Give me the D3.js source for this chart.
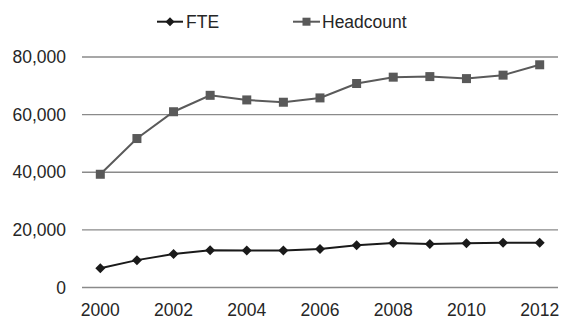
<!DOCTYPE html>
<html><head><meta charset="utf-8">
<script src="https://cdn.jsdelivr.net/npm/d3@7"></script>
<style>body{margin:0;background:#fff}svg{display:block}text{font-family:"Liberation Sans",Arial,sans-serif}</style>
</head><body><svg id="c" width="562" height="320"></svg>
<script>
const years = [2000,2001,2002,2003,2004,2005,2006,2007,2008,2009,2010,2011,2012];
const fte = [6700,9500,11600,12900,12800,12800,13400,14700,15450,15100,15350,15550,15550];
const headcount = [39300,51700,61000,66700,65100,64300,65800,70800,73000,73200,72500,73700,77300];
const yTicks = [0,20000,40000,60000,80000];
const xTickYears = [2000,2002,2004,2006,2008,2010,2012];

const svg = d3.select("#c");
const x = d3.scalePoint().domain(years).range([82,558]).padding(0.5);
const y = d3.scaleLinear().domain([0,80000]).range([287.5,57]);
const fs = 17.5;

// gridlines
svg.append("g").selectAll("line").data(yTicks).join("line")
  .attr("x1",82).attr("x2",558).attr("y1",d=>y(d)).attr("y2",d=>y(d))
  .attr("stroke","#8a8a8a").attr("stroke-width",1.3);

// y axis labels
const fmt = d3.format(",");
svg.append("g").selectAll("text").data(yTicks).join("text")
  .attr("x",66).attr("y",d=>y(d)).attr("dy","0.35em").attr("text-anchor","end")
  .attr("font-size",fs).attr("fill","#262626").text(d=>fmt(d));

// x axis labels
svg.append("g").selectAll("text").data(xTickYears).join("text")
  .attr("x",d=>x(d)).attr("y",316).attr("text-anchor","middle")
  .attr("font-size",fs).attr("fill","#262626").text(d=>d);

const line = d3.line().x((d,i)=>x(years[i])).y(d=>y(d));

// headcount
svg.append("path").datum(headcount).attr("d",line).attr("fill","none")
  .attr("stroke","#5a5a5a").attr("stroke-width",2);
svg.append("g").selectAll("rect").data(headcount).join("rect")
  .attr("x",(d,i)=>x(years[i])-4.5).attr("y",d=>y(d)-4.5).attr("width",9).attr("height",9)
  .attr("fill","#595959");

// fte
const diamond = (cx,cy,r)=>`M${cx},${cy-r}L${cx+r},${cy}L${cx},${cy+r}L${cx-r},${cy}Z`;
svg.append("path").datum(fte).attr("d",line).attr("fill","none")
  .attr("stroke","#1a1a1a").attr("stroke-width",2);
svg.append("g").selectAll("path").data(fte).join("path")
  .attr("d",(d,i)=>diamond(x(years[i]),y(d),5)).attr("fill","#1a1a1a");

// legend
const ly = 21.7;
const lg = svg.append("g");
lg.append("line").attr("x1",157).attr("x2",183).attr("y1",ly).attr("y2",ly).attr("stroke","#1a1a1a").attr("stroke-width",2);
lg.append("path").attr("d",diamond(170,ly,4.5)).attr("fill","#1a1a1a");
lg.append("text").attr("x",186).attr("y",ly).attr("dy","0.35em").attr("font-size",fs).attr("fill","#262626").text("FTE");
lg.append("line").attr("x1",293).attr("x2",320).attr("y1",ly).attr("y2",ly).attr("stroke","#5a5a5a").attr("stroke-width",2);
lg.append("rect").attr("x",302.5).attr("y",ly-4).attr("width",8).attr("height",8).attr("fill","#595959");
lg.append("text").attr("x",322).attr("y",ly).attr("dy","0.35em").attr("font-size",fs).attr("fill","#262626").text("Headcount");
</script></body></html>
